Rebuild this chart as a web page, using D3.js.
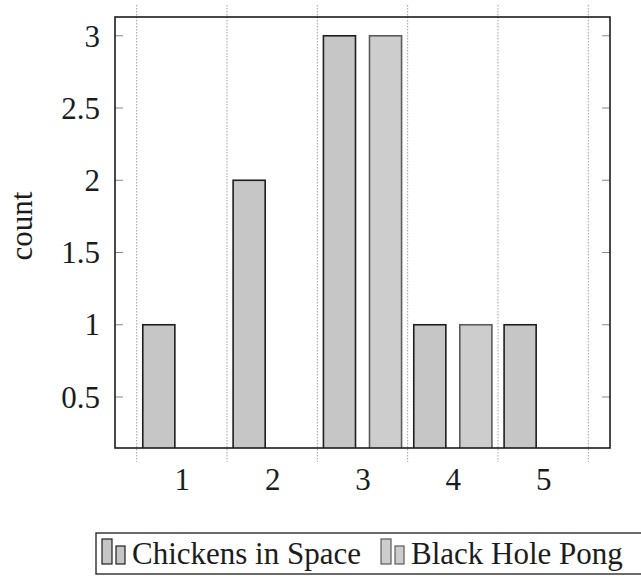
<!DOCTYPE html>
<html><head><meta charset="utf-8">
<script src="https://cdn.jsdelivr.net/npm/d3@7"></script>
<style>html,body{margin:0;padding:0;background:#fff;}svg{display:block;}</style>
</head><body>
<script>
const categories = [1, 2, 3, 4, 5];
const seriesNames = ["Chickens in Space", "Black Hole Pong"];
const chickens = [1, 2, 3, 1, 1];
const blackHole = [0, 0, 3, 1, 0];
const yTicks = [0.5, 1, 1.5, 2, 2.5, 3];
const gridPos = [0.5, 1.5, 2.5, 3.5, 4.5, 5.5];

const W = 641, H = 582;
const L = 115, R = 610, T = 17, B = 448;
const font = '"Liberation Serif"';
const ink = "#1c1c1c";

const svg = d3.select("body").append("svg").attr("width", W).attr("height", H);

const x = d3.scaleLinear().domain([0.26, 5.74]).range([L, R]);
const y = d3.scaleLinear().domain([0.147, 3.13]).range([B, T]);

svg.append("defs").append("clipPath").attr("id", "clip")
  .append("rect").attr("x", L).attr("y", T).attr("width", R - L).attr("height", B - T);

// vertical grid lines (extend beyond frame, like the scan)
svg.append("g").selectAll("line").data(gridPos).join("line")
  .attr("x1", d => x(d)).attr("x2", d => x(d))
  .attr("y1", 5).attr("y2", 462)
  .attr("stroke", "#a0a0a0").attr("stroke-width", 1).attr("stroke-dasharray", "1.5,1.5");

// y tick marks (inside frame both sides)
const tk = svg.append("g");
tk.selectAll("line.l").data(yTicks).join("line").attr("class", "l")
  .attr("x1", L).attr("x2", L + 8).attr("y1", d => y(d)).attr("y2", d => y(d))
  .attr("stroke", "#888").attr("stroke-width", 1);
tk.selectAll("line.r").data(yTicks).join("line").attr("class", "r")
  .attr("x1", R - 8).attr("x2", R).attr("y1", d => y(d)).attr("y2", d => y(d))
  .attr("stroke", "#888").attr("stroke-width", 1);

// bars
const barW = 0.355, off = 0.255;
const series = [
  { name: seriesNames[0], values: chickens, dx: -off, fill: "#c6c6c6", stroke: "#1e1e1e" },
  { name: seriesNames[1], values: blackHole, dx: off, fill: "#cdcdcd", stroke: "#5a5a5a" }
];
const bars = svg.append("g").attr("clip-path", "url(#clip)");
series.forEach(s => {
  bars.append("g").selectAll("rect").data(categories.map((c, i) => ({ c, v: s.values[i] })).filter(d => d.v > 0))
    .join("rect")
    .attr("x", d => x(d.c + s.dx - barW / 2))
    .attr("width", x(barW) - x(0))
    .attr("y", d => y(d.v))
    .attr("height", d => y(0) - y(d.v))
    .attr("fill", s.fill).attr("stroke", s.stroke).attr("stroke-width", 1.6);
});

// frame
svg.append("rect").attr("x", L).attr("y", T).attr("width", R - L).attr("height", B - T)
  .attr("fill", "none").attr("stroke", ink).attr("stroke-width", 1.6);

// y axis labels
const yAxis = d3.axisLeft(y).tickValues(yTicks).tickSize(0).tickPadding(0)
  .tickFormat(d => String(d));
const ya = svg.append("g").attr("transform", `translate(${L - 15},0)`).call(yAxis);
ya.attr("font-family", font).attr("font-size", 31);
ya.select(".domain").remove();
ya.selectAll("text").style("font-family", font).style("font-size", "31px").attr("fill", ink).attr("dy", "0.33em");

// x axis labels
const xAxis = d3.axisBottom(x).tickValues(categories).tickSize(0).tickPadding(0).tickFormat(d => String(d));
const xa = svg.append("g").attr("transform", `translate(0,${B})`).call(xAxis);
xa.attr("font-family", font).attr("font-size", 31);
xa.select(".domain").remove();
xa.selectAll("text").style("font-family", font).style("font-size", "31px").attr("fill", ink).attr("dy", 0).attr("y", 42);

// y axis title
svg.append("text").attr("transform", `translate(32,226) rotate(-90)`)
  .attr("text-anchor", "middle").style("font-family", font).style("font-size", "31px").attr("fill", ink)
  .text("count");

// legend
const lg = svg.append("g");
lg.append("rect").attr("x", 96).attr("y", 533).attr("width", 560).attr("height", 41)
  .attr("fill", "#fff").attr("stroke", ink).attr("stroke-width", 1.3);
let cx = 102;
series.forEach((s, i) => {
  lg.append("rect").attr("x", cx).attr("y", 539).attr("width", 10).attr("height", 25)
    .attr("fill", s.fill).attr("stroke", s.stroke).attr("stroke-width", 1.2);
  lg.append("rect").attr("x", cx + 14).attr("y", 546).attr("width", 9).attr("height", 18)
    .attr("fill", s.fill).attr("stroke", s.stroke).attr("stroke-width", 1.2);
  const t = lg.append("text").attr("x", cx + 30).attr("y", 564)
    .style("font-family", font).style("font-size", "31px").attr("fill", ink).text(s.name);
  cx = cx + 30 + t.node().getComputedTextLength() + 20;
});
</script>
</body></html>
